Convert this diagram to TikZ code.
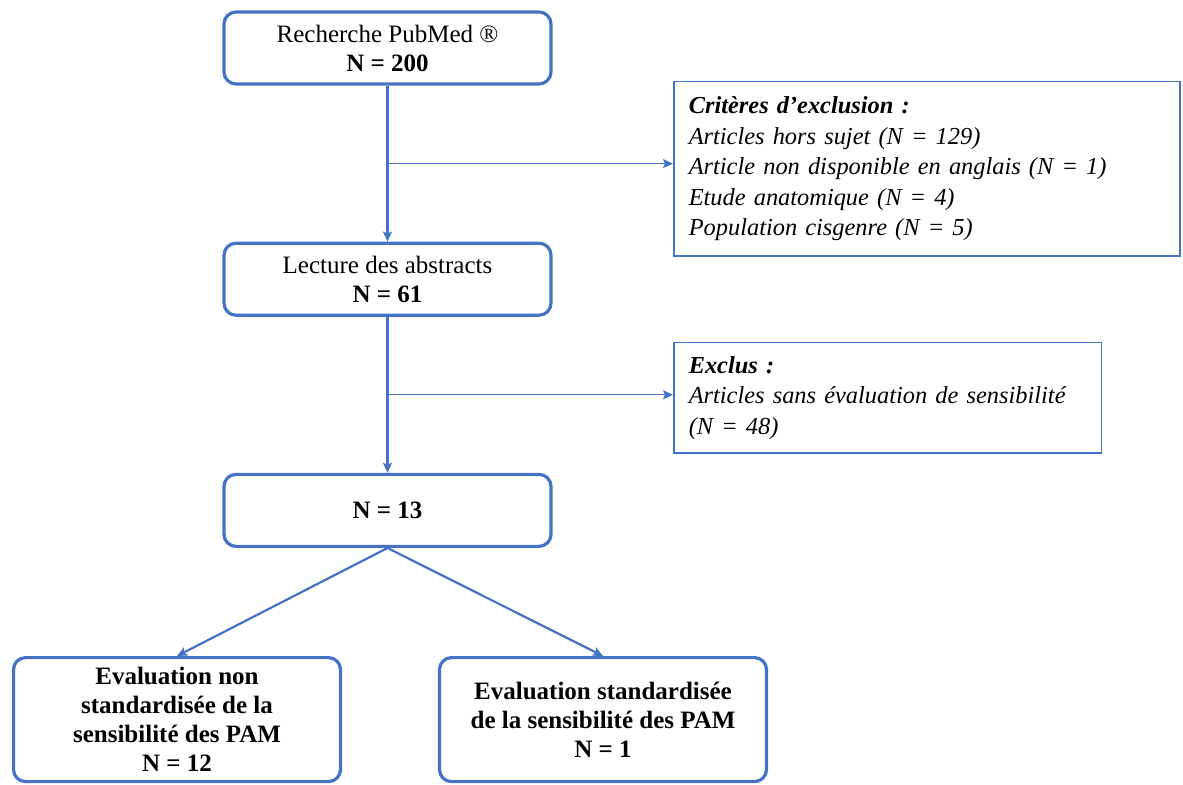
\documentclass[tikz,border=0pt]{standalone}
\usepackage{fontspec}
\setmainfont{Liberation Serif}
\usetikzlibrary{arrows.meta, positioning, calc}
\definecolor{wordblue}{HTML}{4472C4}

\begin{document}
\begin{tikzpicture}[
  x=0.5pt, y=0.5pt,
  node distance=78pt,
  box/.style={draw=wordblue, line width=1.6pt, rounded corners=6pt, align=center, font=\fontsize{12.5pt}{14.5pt}\selectfont, minimum width=163.5pt, minimum height=36pt, inner sep=2pt},
  leaf/.style={box, font=\fontsize{12.5pt}{14.5pt}\selectfont\bfseries, minimum height=62pt},
  note/.style={draw=wordblue, line width=0.75pt, align=left, font=\fontsize{12.2pt}{15.25pt}\selectfont\itshape, inner xsep=7.5pt, anchor=west},
  flow/.style={-{Stealth[length=5pt, width=4.5pt, inset=1pt]}, draw=wordblue, line width=1.1pt},
  thinflow/.style={-{Stealth[length=5pt, width=4.5pt, inset=1pt]}, draw=wordblue, line width=0.55pt}
]
\useasboundingbox (0,0) rectangle (1183,-785);

\node[box] (pubmed) at (387.5,-48) {Recherche PubMed ®\\\textbf{N = 200}};
\node[box, below=of pubmed] (abstracts) {Lecture des abstracts\\\textbf{N = 61}};
\node[box, below=of abstracts] (count) {\textbf{N = 13}};
\node[leaf, below=54pt of count, xshift=-105.25pt] (nonstd) {Evaluation non\\standardisée de la\\sensibilité des PAM\\N = 12};
\node[leaf, below=54pt of count, xshift=107.75pt] (std) {Evaluation standardisée\\de la sensibilité des PAM\\N = 1};

\coordinate (m1) at ($(pubmed.south)!0.5!(abstracts.north)$);
\coordinate (m2) at ($(abstracts.south)!0.5!(count.north)$);

\node[note, text width=238pt, minimum height=87.25pt] (crit) at (673,-169)
  {\textbf{Critères d’exclusion :}\\Articles hors sujet (N = 129)\\Article non disponible en anglais (N = 1)\\Etude anatomique (N = 4)\\Population cisgenre (N = 5)};
\node[note, text width=198.75pt, minimum height=55.25pt] (excl) at (673,-398)
  {\textbf{Exclus :}\\Articles sans évaluation de sensibilité\\(N = 48)};

\draw[flow] (pubmed) -- (abstracts);
\draw[flow] (abstracts) -- (count);
\draw[thinflow] (m1) -- (m1 -| crit.west);
\draw[thinflow] (m2) -- (m2 -| excl.west);
\draw[flow] (count.south) -- (nonstd.north);
\draw[flow] (count.south) -- (std.north);
\end{tikzpicture}
\end{document}
